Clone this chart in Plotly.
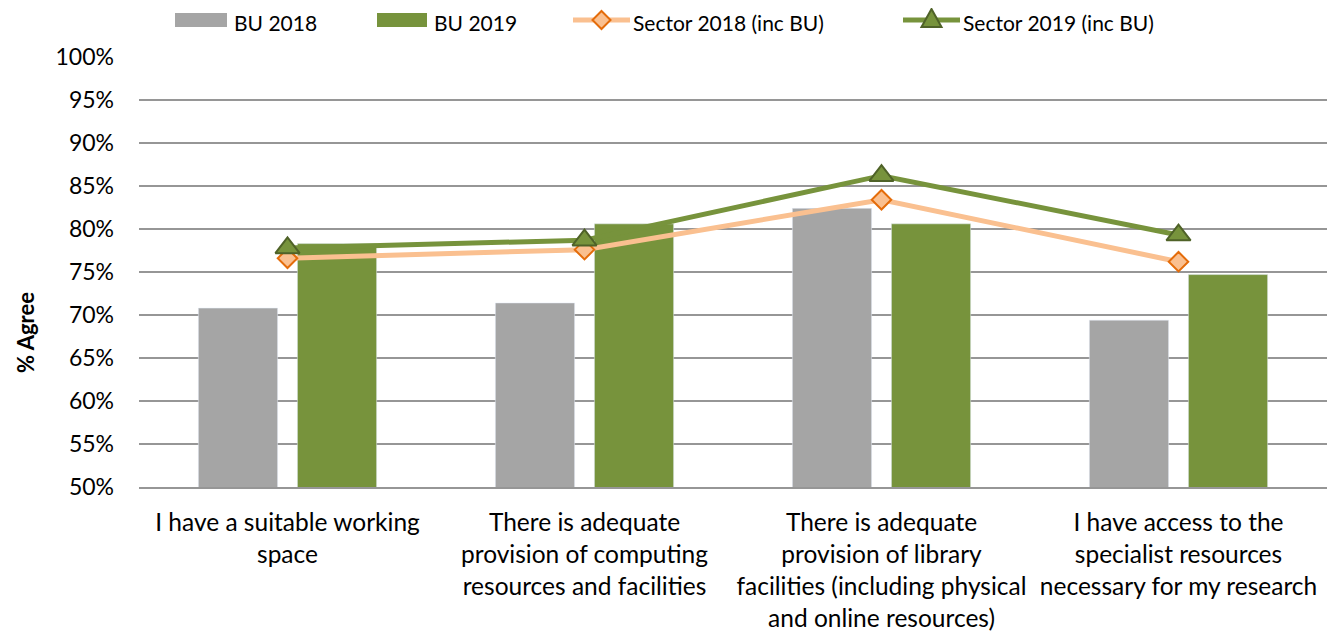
import plotly.graph_objects as go

categories = [
    "I have a suitable working<br>space",
    "There is adequate<br>provision of computing<br>resources and facilities",
    "There is adequate<br>provision of library<br>facilities (including physical<br>and online resources)",
    "I have access to the<br>specialist resources<br>necessary for my research",
]
bu_2018 = [70.8, 71.4, 82.4, 69.4]
bu_2019 = [78.3, 80.6, 80.6, 74.7]
sector_2018 = [76.6, 77.6, 83.4, 76.2]
sector_2019 = [77.8, 78.7, 86.2, 79.3]
series_names = ["BU 2018", "BU 2019", "Sector 2018 (inc BU)", "Sector 2019 (inc BU)"]
y_ticks = list(range(50, 101, 5))

GRAY = "#A5A5A5"
GREEN = "#77933C"
GREEN_DARK = "#4F6228"
PEACH = "#FAC090"
ORANGE = "#E46C0A"
FONT = "Lato"

OFF = 8  # page body margin
W, H = 1336 - OFF, 637 - OFF
# plot area in page pixels: x 139..1327, y 57..487
PL, PR, PT, PB = 139, 1327, 57, 487
L = PL - OFF
R = W - (PR - OFF)
T = PT - OFF
B = H - (PB - OFF)
PW, PH = PR - PL, PB - PT


def px(x):
    return (x - PL) / PW


def py(y):
    return (PB - y) / PH


fig = go.Figure()
fig.add_trace(go.Bar(x=categories, y=bu_2018, name=series_names[0], marker_color=GRAY,
                     showlegend=False))
fig.add_trace(go.Bar(x=categories, y=bu_2019, name=series_names[1], marker_color=GREEN,
                     showlegend=False))
fig.add_trace(go.Scatter(x=categories, y=sector_2018, name=series_names[2], mode="lines+markers",
                         line=dict(color=PEACH, width=5),
                         marker=dict(symbol="diamond", size=15, color=PEACH,
                                     line=dict(color=ORANGE, width=2)),
                         showlegend=False))
fig.add_trace(go.Scatter(x=categories, y=sector_2019, name=series_names[3], mode="lines+markers",
                         line=dict(color=GREEN, width=5),
                         marker=dict(symbol="triangle-up", size=21, color=GREEN,
                                     line=dict(color=GREEN_DARK, width=2)),
                         showlegend=False))

# custom legend
shapes = []
annotations = []
ly = 20
ty = 22
legend_font = dict(family=FONT, size=21, color="#000000")
for x0, x1, col, tx, name in [(175, 227, GRAY, 233, series_names[0]),
                              (377, 427, GREEN, 433, series_names[1])]:
    shapes.append(dict(type="rect", xref="paper", yref="paper",
                       x0=px(x0), x1=px(x1), y0=py(ly + 7), y1=py(ly - 7),
                       fillcolor=col, line=dict(width=0)))
    annotations.append(dict(text=name, xref="paper", yref="paper", x=px(tx), y=py(ty),
                            xanchor="left", yanchor="middle", showarrow=False, borderpad=0,
                            font=legend_font))
for x0, x1, col, tx, name in [(573, 630, PEACH, 632, series_names[2]),
                              (903, 960, GREEN, 962, series_names[3])]:
    shapes.append(dict(type="line", xref="paper", yref="paper",
                       x0=px(x0), x1=px(x1), y0=py(ly), y1=py(ly),
                       line=dict(color=col, width=5)))
    annotations.append(dict(text=name, xref="paper", yref="paper", x=px(tx), y=py(ty),
                            xanchor="left", yanchor="middle", showarrow=False, borderpad=0,
                            font=legend_font))
cx = 601.5
d = 9
shapes.append(dict(type="path", xref="paper", yref="paper",
                   path=f"M {px(cx)},{py(ly - d)} L {px(cx + d)},{py(ly)} L {px(cx)},{py(ly + d)} L {px(cx - d)},{py(ly)} Z",
                   fillcolor=PEACH, line=dict(color=ORANGE, width=2)))
cx = 931.5
shapes.append(dict(type="path", xref="paper", yref="paper",
                   path=f"M {px(cx)},{py(ly - 11)} L {px(cx + 10)},{py(ly + 7)} L {px(cx - 10)},{py(ly + 7)} Z",
                   fillcolor=GREEN, line=dict(color=GREEN_DARK, width=2)))

# y axis title
annotations.append(dict(text="<b>% Agree</b>", xref="paper", yref="paper", x=px(25), y=py(333),
                        xanchor="center", yanchor="middle", textangle=-90, showarrow=False,
                        borderpad=0, font=dict(family=FONT, size=22, color="#000000")))

fig.update_layout(
    width=W, height=H,
    margin=dict(l=L, r=R, t=T, b=B, pad=0, autoexpand=False),
    paper_bgcolor="white", plot_bgcolor="white",
    barmode="group", bargap=0.333, bargroupgap=0.2,
    font=dict(family=FONT, size=23, color="#000000"),
    shapes=shapes, annotations=annotations,
    showlegend=False,
)
fig.update_yaxes(range=[50, 100], tickvals=y_ticks, ticktext=[f"{v}%" for v in y_ticks],
                 showgrid=True, gridcolor="#969696", gridwidth=2, zeroline=False,
                 ticks="", ticklabelstandoff=24, tickfont=dict(family=FONT, size=23))
fig.update_xaxes(showline=True, linecolor="#969696", linewidth=2, ticks="",
                 ticklabelstandoff=13, tickfont=dict(family=FONT, size=24.5))

fig.write_html("out.html")
